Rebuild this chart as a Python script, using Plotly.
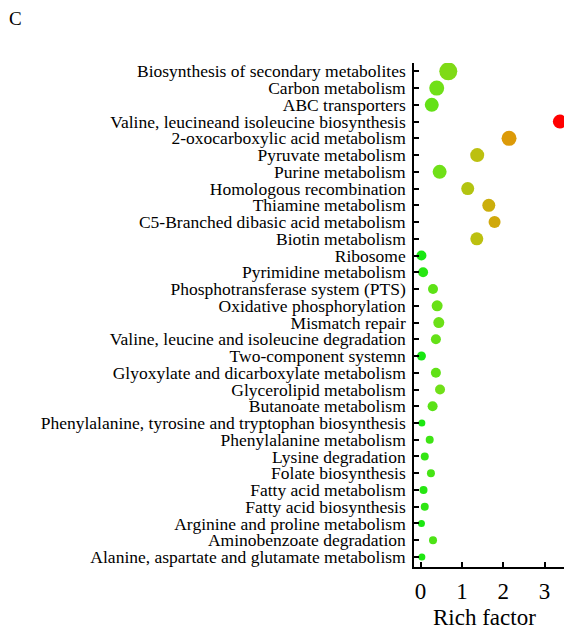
import plotly.graph_objects as go

pathways = [
    "Biosynthesis of secondary metabolites",
    "Carbon metabolism",
    "ABC transporters",
    "Valine, leucineand isoleucine biosynthesis",
    "2-oxocarboxylic acid metabolism",
    "Pyruvate metabolism",
    "Purine metabolism",
    "Homologous recombination",
    "Thiamine metabolism",
    "C5-Branched dibasic acid metabolism",
    "Biotin metabolism",
    "Ribosome",
    "Pyrimidine metabolism",
    "Phosphotransferase system (PTS)",
    "Oxidative phosphorylation",
    "Mismatch repair",
    "Valine, leucine and isoleucine degradation",
    "Two-component systemn",
    "Glyoxylate and dicarboxylate metabolism",
    "Glycerolipid metabolism",
    "Butanoate metabolism",
    "Phenylalanine, tyrosine and tryptophan biosynthesis",
    "Phenylalanine metabolism",
    "Lysine degradation",
    "Folate biosynthesis",
    "Fatty acid metabolism",
    "Fatty acid biosynthesis",
    "Arginine and proline metabolism",
    "Aminobenzoate degradation",
    "Alanine, aspartate and glutamate metabolism",
]

rich_factor = [0.67, 0.39, 0.27, 3.37, 2.14, 1.37, 0.46, 1.14, 1.65, 1.79, 1.36,
               0.02, 0.06, 0.30, 0.40, 0.44, 0.37, 0.02, 0.37, 0.47, 0.29,
               0.03, 0.22, 0.10, 0.25, 0.07, 0.10, 0.02, 0.30, 0.03]

gene_count = [18, 15, 14, 14, 15, 14, 14, 13, 13, 12, 13,
              10, 10, 10, 11, 11, 10, 9, 10, 10, 10,
              7, 8, 8, 8, 8, 8, 7, 8, 7]

color_score = [0.30, 0.25, 0.22, 1.00, 0.75, 0.50, 0.25, 0.47, 0.62, 0.66, 0.50,
               0.02, 0.06, 0.20, 0.23, 0.24, 0.22, 0.02, 0.21, 0.25, 0.19,
               0.03, 0.12, 0.09, 0.14, 0.06, 0.08, 0.03, 0.16, 0.04]

x_ticks = [0, 1, 2, 3]

colorscale = [
    [0.0, "#10e810"],
    [0.25, "#70e018"],
    [0.5, "#bcc010"],
    [0.75, "#dc9a08"],
    [1.0, "#ff0000"],
]

FONT = "Liberation Serif, Times New Roman, serif"

W, H = 564, 633
L, R, T, B = 414, 0, 63, 66
PW, PH = W - L - R, H - T - B

fig = go.Figure(
    go.Scatter(
        x=rich_factor,
        y=pathways,
        mode="markers",
        marker=dict(
            size=gene_count,
            sizemode="diameter",
            color=color_score,
            colorscale=colorscale,
            cmin=0,
            cmax=1,
            showscale=False,
            opacity=1,
            line=dict(width=0),
        ),
        hovertemplate="%{y}<br>Rich factor: %{x}<extra></extra>",
    )
)

fig.update_layout(
    width=W,
    height=H,
    margin=dict(l=L, r=R, t=T, b=B, autoexpand=False),
    plot_bgcolor="white",
    paper_bgcolor="white",
    showlegend=False,
    font=dict(family=FONT, color="black"),
)

fig.add_annotation(
    text="C", xref="paper", yref="paper",
    x=(15 - L) / PW, y=1 + (T - 18) / PH,
    xanchor="center", yanchor="middle", showarrow=False,
    font=dict(family=FONT, size=19, color="black"),
)
fig.add_annotation(
    text="Rich factor", xref="paper", yref="paper",
    x=(484 - L) / PW, y=-(617 - (T + PH)) / PH,
    xanchor="center", yanchor="middle", showarrow=False,
    font=dict(family=FONT, size=23, color="black"),
)

fig.update_xaxes(
    range=[-0.16, 3.47],
    tickvals=x_ticks,
    ticktext=[str(t) for t in x_ticks],
    ticks="inside",
    ticklen=5,
    tickwidth=1.5,
    tickcolor="black",
    showline=True,
    linecolor="black",
    linewidth=1.5,
    showgrid=False,
    zeroline=False,
    automargin=False,
    ticklabelstandoff=3,
    tickfont=dict(family=FONT, size=23, color="black"),
)

fig.update_yaxes(
    type="category",
    categoryorder="array",
    categoryarray=pathways,
    range=[len(pathways) - 0.4, -0.5],
    tickmode="linear",
    tick0=0,
    dtick=1,
    ticks="inside",
    ticklen=5,
    tickwidth=1.5,
    tickcolor="black",
    showline=True,
    linecolor="black",
    linewidth=1.5,
    showgrid=False,
    zeroline=False,
    automargin=False,
    ticklabelstandoff=3,
    tickfont=dict(family=FONT, size=17.5, color="black"),
)

fig.write_html(
    "out.html",
    config={"displayModeBar": False},
    post_script="document.body.style.margin='0';document.body.style.overflow='hidden';",
)
